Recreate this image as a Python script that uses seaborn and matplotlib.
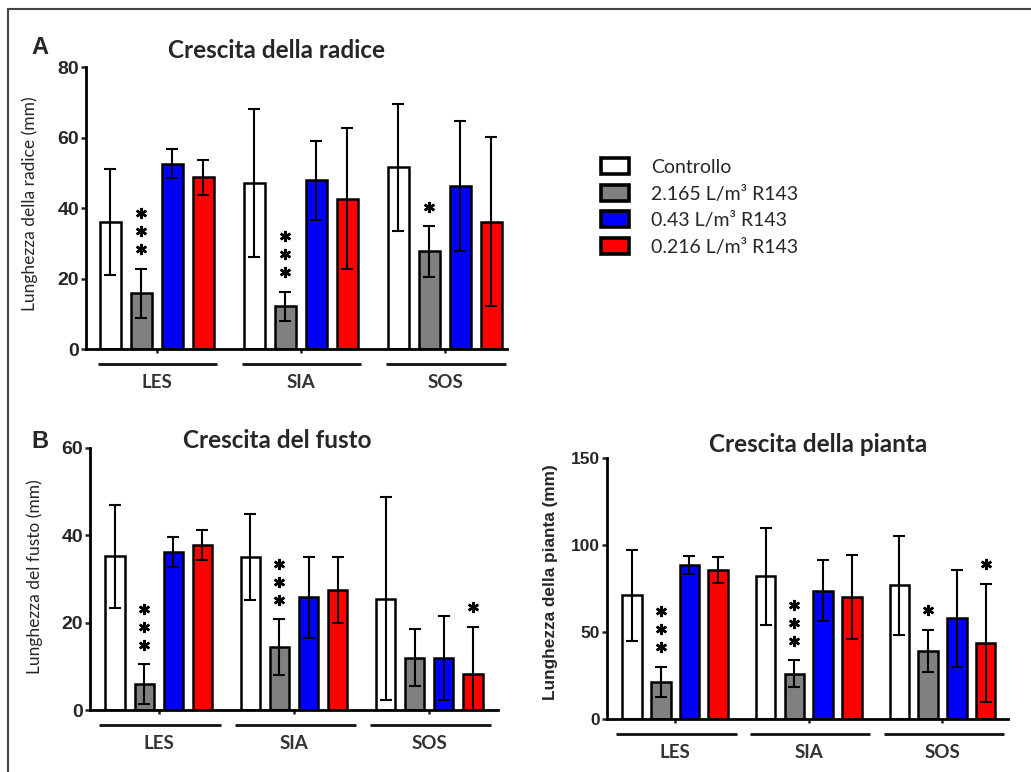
import numpy as np
import pandas as pd
import matplotlib
matplotlib.use("Agg")
import matplotlib.pyplot as plt
import matplotlib.transforms as mtransforms
from matplotlib.patches import Patch
from matplotlib.lines import Line2D
from matplotlib.container import BarContainer
import seaborn as sns

# Data (mean +/- error, mm)
groups = ["LES", "SIA", "SOS"]
treatments = ["Controllo", "2.165 L/m³ R143", "0.43 L/m³ R143", "0.216 L/m³ R143"]
colors = ["#ffffff", "#808080", "#0000ff", "#ff0000"]

# rows = treatments, columns = groups
radice_mean = [[36.0, 47.2, 51.6], [15.8, 12.1, 27.7], [52.6, 47.9, 46.2], [48.7, 42.6, 36.1]]
radice_err = [[15.0, 21.0, 18.0], [7.0, 4.2, 7.2], [4.0, 11.2, 18.5], [4.9, 20.0, 24.0]]
radice_stars = [[0, 0, 0], [3, 3, 1], [0, 0, 0], [0, 0, 0]]

fusto_mean = [[35.2, 35.1, 25.5], [5.9, 14.4, 12.0], [36.2, 25.8, 12.0], [37.8, 27.5, 8.2]]
fusto_err = [[11.8, 9.8, 23.3], [4.6, 6.4, 6.5], [3.4, 9.3, 9.6], [3.5, 7.5, 10.9]]
fusto_stars = [[0, 0, 0], [3, 3, 0], [0, 0, 0], [0, 0, 1]]

pianta_mean = [[71.1, 82.0, 76.8], [21.5, 26.1, 39.3], [88.3, 73.8, 57.9], [85.8, 70.1, 43.7]]
pianta_err = [[26.0, 28.0, 28.4], [8.6, 7.7, 12.0], [5.2, 17.5, 27.8], [7.6, 24.0, 34.0]]
pianta_stars = [[0, 0, 0], [3, 3, 1], [0, 0, 0], [0, 0, 1]]

sns.set_style("white")
plt.rcParams["font.family"] = ["Lato", "DejaVu Sans"]

fig = plt.figure(figsize=(10.31, 7.72), dpi=100)


def to_frame(mean, err, stars):
    rows = []
    for t, tr in enumerate(treatments):
        for g, gr in enumerate(groups):
            rows.append({"Gruppo": gr, "Trattamento": tr, "mean": mean[t][g],
                         "err": err[t][g], "stars": stars[t][g]})
    return pd.DataFrame(rows)


def panel(rect, df, ylim, yticks, xlim, ylabel, tick_size, label_font, label_size,
          label_xy, line_span):
    ax = fig.add_axes(rect)
    sns.barplot(data=df, x="Gruppo", y="mean", hue="Trattamento", order=groups,
                hue_order=treatments, palette=colors, width=0.86, gap=0.32,
                edgecolor="black", linewidth=1.8, errorbar=None, legend=False,
                saturation=1, ax=ax, zorder=2)
    # error bars and significance stars positioned from the drawn bars
    bar_conts = [c for c in ax.containers if isinstance(c, BarContainer)]
    for t, cont in enumerate(bar_conts):
        for g, bar in enumerate(cont.patches):
            row = df[(df["Trattamento"] == treatments[t]) & (df["Gruppo"] == groups[g])].iloc[0]
            xc = bar.get_x() + bar.get_width() / 2
            ax.errorbar(xc, row["mean"], yerr=row["err"], fmt="none", ecolor="black",
                        elinewidth=1.5, capsize=4.6, capthick=1.5, zorder=3)
            for k in range(int(row["stars"])):
                tr = mtransforms.offset_copy(ax.transData, fig=fig, y=14 + 13 * k, units="points")
                ax.plot(xc, row["mean"] + row["err"], marker=(6, 2, 0), markersize=8,
                        markeredgewidth=1.8, color="black", transform=tr, clip_on=False)
    ax.set_ylim(*ylim)
    ax.set_xlim(*xlim)
    ax.set_yticks(yticks)
    ax.set_xticks(range(len(groups)))
    ax.tick_params(axis="y", direction="out", length=3.5, width=1.8, pad=1.5, left=True,
                   labelsize=tick_size)
    ax.tick_params(axis="x", direction="out", length=3, width=1.8, pad=15, bottom=True,
                   labelsize=13.5, labelcolor="#333333")
    ax.set_yticklabels([str(v) for v in yticks])
    ax.set_xticklabels(groups)
    for lbl in ax.get_yticklabels():
        lbl.set_fontfamily("Liberation Sans")
        lbl.set_fontweight("bold")
        lbl.set_fontsize(tick_size)
    for lbl in ax.get_xticklabels():
        lbl.set_fontweight("bold")
        lbl.set_fontsize(13.5)
    for s in ["top", "right"]:
        ax.spines[s].set_visible(False)
    for s in ["left", "bottom"]:
        ax.spines[s].set_linewidth(2)
        ax.spines[s].set_color("black")
    ax.set_xlabel("")
    ax.set_ylabel(ylabel, fontsize=label_size, family=label_font,
                  fontweight="bold" if label_font == "Liberation Sans" else "normal",
                  va="center")
    ax.yaxis.set_label_coords(*label_xy)
    # group underlines below the axis
    line_tr = mtransforms.blended_transform_factory(ax.transData, ax.transAxes) + \
        mtransforms.ScaledTranslation(0, -0.15, fig.dpi_scale_trans)
    for g in range(len(groups)):
        ax.plot([g + line_span[0], g + line_span[1]], [0, 0], color="#111111", lw=2,
                transform=line_tr, clip_on=False, solid_capstyle="butt")
    return ax


axA = panel([0.0834, 0.5479, 0.4083, 0.3653], to_frame(radice_mean, radice_err, radice_stars),
            (0, 80), [0, 20, 40, 60, 80], (-0.49, 2.43), "Lunghezza della radice (mm)",
            14, "Lato", 12.5, (-0.133, 0.514), (-0.41, 0.42))
axB1 = panel([0.0873, 0.0803, 0.3957, 0.3394], to_frame(fusto_mean, fusto_err, fusto_stars),
             (0, 60), [0, 20, 40, 60], (-0.51, 2.51), "Lunghezza del fusto (mm)",
             14, "Lato", 12.5, (-0.135, 0.51), (-0.44, 0.46))
axB2 = panel([0.5887, 0.0686, 0.3889, 0.3381], to_frame(pianta_mean, pianta_err, pianta_stars),
             (0, 150), [0, 50, 100, 150], (-0.51, 2.49), "Lunghezza della pianta (mm)",
             12.5, "Liberation Sans", 12.4, (-0.142, 0.525), (-0.44, 0.46))

W, H = 1031, 772
fig.text(277 / W, 1 - 51 / H, "Crescita della radice", ha="center", va="center",
         fontsize=17.5, fontweight="bold")
fig.text(277 / W, 1 - 441 / H, "Crescita del fusto", ha="center", va="center",
         fontsize=17.5, fontweight="bold")
fig.text(818 / W, 1 - 444 / H, "Crescita della pianta", ha="center", va="center",
         fontsize=17.5, fontweight="bold")
fig.text(40 / W, 1 - 47 / H, "A", ha="center", va="center", fontsize=17,
         fontweight="bold", family="Liberation Sans")
fig.text(40 / W, 1 - 441 / H, "B", ha="center", va="center", fontsize=17,
         fontweight="bold", family="Liberation Sans")

handles = [Patch(facecolor=c, edgecolor="black", linewidth=2.6) for c in colors]
fig.legend(handles, treatments, loc="upper left", bbox_to_anchor=(0.583, 0.795),
           frameon=False, fontsize=14, handlelength=1.45, handleheight=0.9,
           handletextpad=1.1, labelspacing=0.45, borderpad=0, borderaxespad=0)

# outer frame (left and top edges)
fig.add_artist(Line2D([8 / W, 8 / W], [0, 1 - 9 / H], color="#444444", lw=1.5,
                      transform=fig.transFigure))
fig.add_artist(Line2D([8 / W, 1], [1 - 9 / H, 1 - 9 / H], color="#444444", lw=1.5,
                      transform=fig.transFigure))

fig.savefig("out.png", dpi=100)
